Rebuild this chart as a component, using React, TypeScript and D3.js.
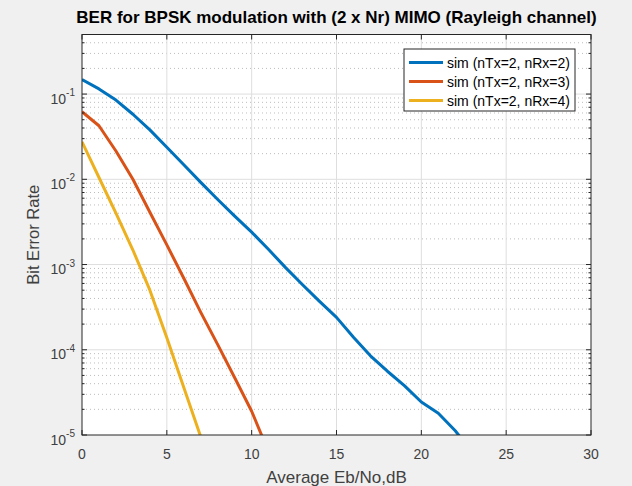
import React from "react";
import * as d3 from "d3";

const snrDb = [0, 1, 2, 3, 4, 5, 6, 7, 8, 9, 10, 11, 12, 13, 14, 15, 16, 17, 18, 19, 20, 21, 22, 23];
const berRx2 = [0.148, 0.115, 0.085, 0.058, 0.038, 0.0238, 0.0148, 0.0092, 0.0058, 0.0037, 0.0024, 0.0015, 0.00092, 0.00058, 0.00037, 0.00024, 0.00014, 0.000085, 0.000056, 0.000038, 0.0000244, 0.0000180, 0.0000112, 0.0000063];
const berRx3 = [0.062, 0.0425, 0.0215, 0.0100, 0.0041, 0.0017, 0.00069, 0.000275, 0.000115, 0.000047, 0.000019, 0.0000063];
const berRx4 = [0.0275, 0.0105, 0.0040, 0.00148, 0.00050, 0.000138, 0.000036, 0.0000095];
const seriesNames = ["sim (nTx=2, nRx=2)", "sim (nTx=2, nRx=3)", "sim (nTx=2, nRx=4)"];
const seriesColors = ["#0072BD", "#D95319", "#EDB120"];
const xTicks = [0, 5, 10, 15, 20, 25, 30];
const yDecades = [-5, -4, -3, -2, -1];

const W = 632, H = 486;
const L = 82, R = 591, T = 34.5, B = 435;
const FONT = "'Liberation Sans', Arial, Helvetica, sans-serif";

export default function App() {
  const x = d3.scaleLinear().domain([0, 30]).range([L, R]);
  const y = d3.scaleLog().domain([1e-5, 0.5]).range([B, T]);
  const all = [berRx2, berRx3, berRx4];
  const line = d3.line<[number, number]>().x(d => x(d[0])).y(d => y(d[1]));

  const minor: number[] = [];
  for (let k = -5; k <= -1; k++) {
    for (let m = 2; m <= 9; m++) {
      const v = m * Math.pow(10, k);
      if (v <= 0.5 + 1e-12) minor.push(v);
    }
  }
  const axisCol = "#262626";
  const textCol = "#404040";

  return (
    <svg width={W} height={H} style={{ position: "absolute", left: 0, top: 0, display: "block" }} fontFamily={FONT}>
      <rect x={0} y={0} width={W} height={H} fill="#f0f0f0" />
      <rect x={L} y={T} width={R - L} height={B - T} fill="#ffffff" />
      <defs>
        <clipPath id="plotclip">
          <rect x={L} y={T} width={R - L} height={B - T} />
        </clipPath>
      </defs>
      {minor.map((v, i) => (
        <line key={"mg" + i} x1={L} x2={R} y1={y(v)} y2={y(v)} stroke="#bdbdbd" strokeWidth={1} strokeDasharray="1,3" />
      ))}
      {xTicks.slice(1, -1).map(t => (
        <line key={"xg" + t} x1={x(t)} x2={x(t)} y1={T} y2={B} stroke="#dedede" strokeWidth={1} />
      ))}
      {yDecades.slice(1).map(k => (
        <line key={"yg" + k} x1={L} x2={R} y1={y(Math.pow(10, k))} y2={y(Math.pow(10, k))} stroke="#dedede" strokeWidth={1} />
      ))}
      <g clipPath="url(#plotclip)">
        {all.map((arr, i) => (
          <path key={"c" + i} d={line(arr.map((v, j) => [snrDb[j], v] as [number, number])) || ""} fill="none" stroke={seriesColors[i]} strokeWidth={3} strokeLinejoin="round" />
        ))}
      </g>
      {xTicks.map(t => (
        <g key={"xt" + t}>
          <line x1={x(t)} x2={x(t)} y1={B} y2={B - 5} stroke={axisCol} />
          <line x1={x(t)} x2={x(t)} y1={T} y2={T + 5} stroke={axisCol} />
          <text x={x(t)} y={459} textAnchor="middle" fontSize={14} fill={textCol}>{t}</text>
        </g>
      ))}
      {yDecades.map(k => (
        <g key={"yt" + k}>
          <line x1={L} x2={L + 5} y1={y(Math.pow(10, k))} y2={y(Math.pow(10, k))} stroke={axisCol} />
          <line x1={R} x2={R - 5} y1={y(Math.pow(10, k))} y2={y(Math.pow(10, k))} stroke={axisCol} />
          <text x={75} y={y(Math.pow(10, k)) + 9.5} textAnchor="end" fontSize={14} fill={textCol}>
            10<tspan dy={-7.5} fontSize={10}>{k}</tspan>
          </text>
        </g>
      ))}
      {minor.map((v, i) => (
        <g key={"mt" + i}>
          <line x1={L} x2={L + 2.5} y1={y(v)} y2={y(v)} stroke={axisCol} />
          <line x1={R} x2={R - 2.5} y1={y(v)} y2={y(v)} stroke={axisCol} />
        </g>
      ))}
      <rect x={L} y={T} width={R - L} height={B - T} fill="none" stroke={axisCol} strokeWidth={1} />
      <text x={(L + R) / 2} y={23} textAnchor="middle" fontSize={17} fontWeight="bold" fill="#000">
        BER for BPSK modulation with (2 x Nr) MIMO (Rayleigh channel)
      </text>
      <text x={(L + R) / 2} y={483} textAnchor="middle" fontSize={17} fill={textCol}>Average Eb/No,dB</text>
      <text transform={`translate(39,${(T + B) / 2}) rotate(-90)`} textAnchor="middle" fontSize={16.5} fill={textCol}>Bit Error Rate</text>
      <rect x={404} y={49} width={171} height={62} fill="#ffffff" stroke={axisCol} strokeWidth={1} />
      {seriesNames.map((n, i) => (
        <g key={"lg" + i}>
          <line x1={409} x2={443} y1={62.5 + i * 19} y2={62.5 + i * 19} stroke={seriesColors[i]} strokeWidth={3} />
          <text x={447} y={62.5 + i * 19 + 5} fontSize={14} fill="#000">{n}</text>
        </g>
      ))}
    </svg>
  );
}
